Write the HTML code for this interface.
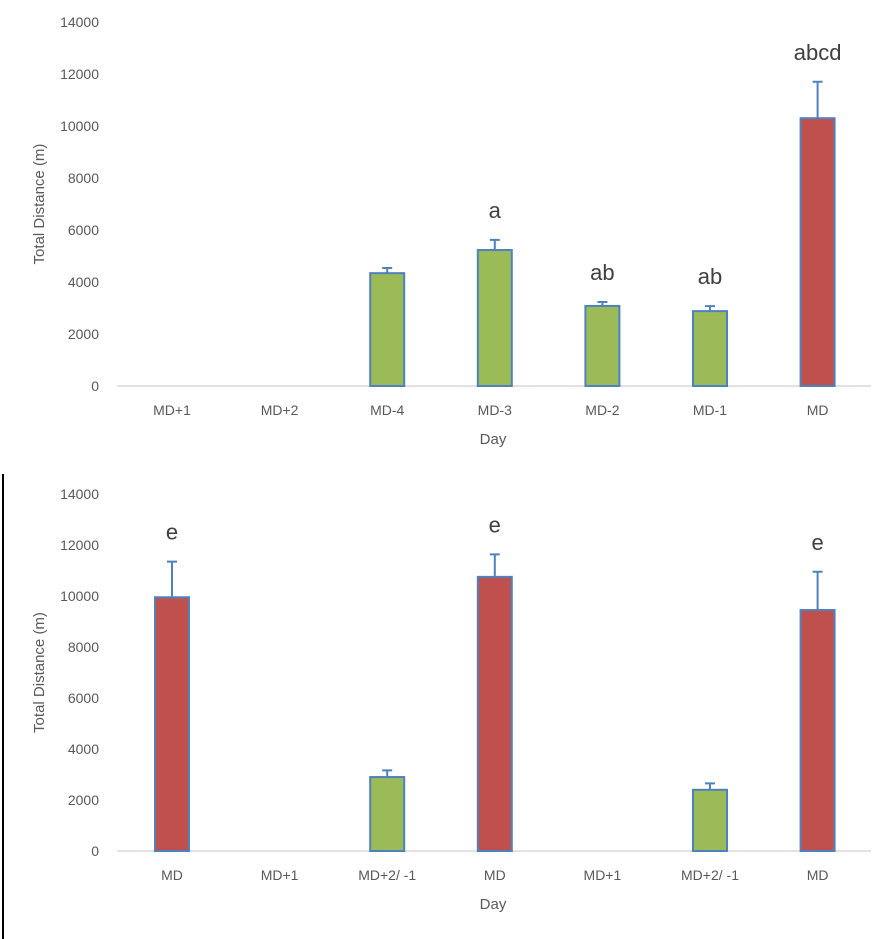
<!DOCTYPE html><html><head><meta charset="utf-8"><style>body{margin:0;background:#fff}svg{display:block;font-family:"Liberation Sans",sans-serif}</style></head><body>
<svg id="c" width="895" height="939">
<line x1="3" y1="474" x2="3" y2="939" stroke="#000" stroke-width="2"/>
</svg>
<script>
const topCats=["MD+1","MD+2","MD-4","MD-3","MD-2","MD-1","MD"];
const topVals=[0,0,4340,5230,3080,2880,10300];
const topErr=[0,0,200,390,150,190,1400];
const topType=["g","g","g","g","g","g","r"];
const topLetters=["","","","a","ab","ab","abcd"];
const botCats=["MD","MD+1","MD+2/ -1","MD","MD+1","MD+2/ -1","MD"];
const botVals=[9950,0,2900,10750,0,2400,9450];
const botErr=[1400,0,260,880,0,250,1500];
const botType=["r","g","g","r","g","g","r"];
const botLetters=["e","","","e","","","e"];
const yTicks=[0,2000,4000,6000,8000,10000,12000,14000];
const svg=document.getElementById('c');
const NS="http://www.w3.org/2000/svg";
function mk(t,a,txt){const e=document.createElementNS(NS,t);for(const k in a)e.setAttribute(k,a[k]);if(txt!==undefined)e.textContent=txt;svg.appendChild(e);return e;}
function chart(p,cats,vals,err,types,letters){
  const y=v=>p.y0-(v/14000)*(p.y0-p.y14);
  const x=i=>172+i*107.6;
  yTicks.forEach(t=>{const e=mk('text',{x:99,y:y(t)+5,'text-anchor':'end','font-size':14,fill:'#595959'},t);
  
  });
  const ax=mk('line',{x1:117,x2:871,y1:p.y0,y2:p.y0,stroke:'#d9d9d9','stroke-width':1.5});
  
  
  cats.forEach((c,i)=>{
    const l=mk('text',{x:x(i),y:p.y0+29,'text-anchor':'middle','font-size':14,fill:'#595959'},c);
    
    
    if(vals[i]>0){
      const e=mk('path',{d:`M${x(i)} ${y(vals[i])}V${y(vals[i]+err[i])}M${x(i)-5} ${y(vals[i]+err[i])}H${x(i)+5}`,stroke:'#4f81bd','stroke-width':2,fill:'none'});
      
      
      const b=mk('rect',{x:x(i)-17,y:y(vals[i]),width:34,height:p.y0-y(vals[i]),fill:types[i]=='r'?'#c0504d':'#9bbb59',stroke:'#4f81bd','stroke-width':2});
      
      
    }
    if(letters[i]){const t=mk('text',{x:x(i),y:y(vals[i]+err[i])-22,'text-anchor':'middle','font-size':22,fill:'#404040'},letters[i]);
    
    }
  });
  const xt=mk('text',{x:493,y:p.y0+58,'text-anchor':'middle','font-size':15,fill:'#595959'},'Day');
  
  
  const cy=(p.y0+p.y14)/2;
  const yt=mk('text',{x:44,y:cy,'text-anchor':'middle','font-size':15,fill:'#595959',transform:`rotate(-90 44 ${cy})`},'Total Distance (m)');
  
  
}
chart({y0:386,y14:22},topCats,topVals,topErr,topType,topLetters);
chart({y0:851,y14:494},botCats,botVals,botErr,botType,botLetters);
</script></body></html>
